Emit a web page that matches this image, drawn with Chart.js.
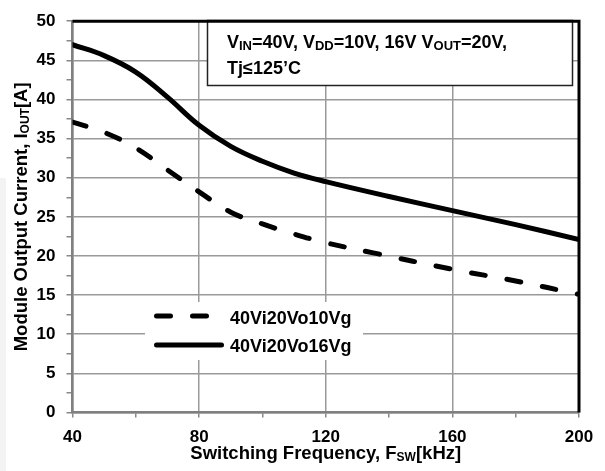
<!DOCTYPE html>
<html>
<head>
<meta charset="utf-8">
<script src="https://cdn.jsdelivr.net/npm/chart.js@4/dist/chart.umd.min.js"></script>
<style>
  html, body { margin: 0; padding: 0; background: #fff; }
  canvas { display: block; }
</style>
</head>
<body>
<canvas id="c" width="605" height="471"></canvas>
<script>
// ---- data ----
const freq16 = [40, 50, 60, 70, 80, 90, 100, 110, 120, 140, 160, 180, 200];
const iout16 = [47.0, 45.6, 43.5, 40.3, 36.7, 34.0, 32.1, 30.6, 29.5, 27.6, 25.8, 24.0, 22.1];
const freq10 = [40, 50, 60, 70, 80, 90, 100, 110, 120, 135, 160, 180, 200];
const iout10 = [37.1, 35.8, 33.8, 31.0, 28.2, 25.6, 24.1, 22.8, 21.7, 20.4, 18.3, 16.8, 15.1];
const seriesLabels = ['40Vi20Vo10Vg', '40Vi20Vo16Vg'];
const xTickValues = [40, 80, 120, 160, 200];
const yTickValues = [0, 5, 10, 15, 20, 25, 30, 35, 40, 45, 50];
const xTitle = [{t: 'Switching Frequency, F'}, {t: 'SW', sub: true}, {t: '[kHz]'}];
const yTitle = [{t: 'Module Output Current, I'}, {t: 'OUT', sub: true}, {t: '[A]'}];
const noteLine1 = [{t: 'V'}, {t: 'IN', sub: true}, {t: '=40V, V'}, {t: 'DD', sub: true}, {t: '=10V, 16V V'}, {t: 'OUT', sub: true}, {t: '=20V,'}];
const noteLine2 = [{t: 'Tj\u2264125\u2019C'}];

const FAM = '"Liberation Sans", Arial, Helvetica, sans-serif';
const pts = (xs, ys) => xs.map((x, i) => ({x: x, y: ys[i]}));

function drawRich(ctx, parts, x, y, size, subSize, align) {
  const fMain = 'bold ' + size + 'px ' + FAM;
  const fSub = 'bold ' + subSize + 'px ' + FAM;
  let w = 0;
  parts.forEach(p => { ctx.font = p.sub ? fSub : fMain; w += ctx.measureText(p.t).width; });
  let cx = align === 'center' ? x - w / 2 : x;
  ctx.textAlign = 'left';
  ctx.textBaseline = 'alphabetic';
  ctx.fillStyle = '#000';
  parts.forEach(p => {
    ctx.font = p.sub ? fSub : fMain;
    ctx.fillText(p.t, cx, y + (p.sub ? 2 : 0));
    cx += ctx.measureText(p.t).width;
  });
}

const decor = {
  id: 'decor',
  beforeDraw(chart) {
    const ctx = chart.ctx;
    ctx.save();
    ctx.fillStyle = '#fff';
    ctx.fillRect(0, 0, chart.width, chart.height);
    ctx.fillStyle = '#f3f3f3';
    ctx.fillRect(0, 178, 6, chart.height - 178);
    ctx.restore();
  },
  beforeDatasetsDraw(chart) {
    const ctx = chart.ctx;
    ctx.save();
    // annotation box
    ctx.fillStyle = '#fff';
    ctx.fillRect(207.5, 20.5, 365, 65);
    ctx.strokeStyle = '#222';
    ctx.lineWidth = 1.5;
    ctx.strokeRect(207.5, 20.5, 365, 65);
    drawRich(ctx, noteLine1, 227, 47.5, 18, 13, 'left');
    drawRich(ctx, noteLine2, 227, 73.5, 18, 13, 'left');
    // legend box (white, no border)
    ctx.fillStyle = '#fff';
    ctx.fillRect(145, 302, 218, 58);
    const ds = chart.data.datasets;
    const rows = [{y: 316, ds: ds[0], x2: 206.5, ty: 323.5}, {y: 345, ds: ds[1], x2: 221.5, ty: 352}];
    rows.forEach(r => {
      ctx.beginPath();
      ctx.lineWidth = r.ds.borderWidth;
      ctx.strokeStyle = r.ds.borderColor;
      ctx.lineCap = 'round';
      ctx.setLineDash(r.ds.borderDash || []);
      ctx.moveTo(156.5, r.y);
      ctx.lineTo(r.x2, r.y);
      ctx.stroke();
      ctx.setLineDash([]);
      drawRich(ctx, [{t: r.ds.label}], 230, r.ty, 18, 13, 'left');
    });
    ctx.restore();
  },
  afterDraw(chart) {
    const ctx = chart.ctx;
    const a = chart.chartArea;
    ctx.save();
    // black top and right frame
    ctx.strokeStyle = '#000';
    ctx.lineWidth = 3;
    ctx.beginPath();
    ctx.moveTo(a.left, a.top);
    ctx.lineTo(a.right, a.top);
    ctx.lineTo(a.right, a.bottom);
    ctx.stroke();
    // axis titles
    drawRich(ctx, xTitle, (a.left + a.right) / 2, 459, 18.5, 12, 'center');
    ctx.translate(20, (a.top + a.bottom) / 2);
    ctx.rotate(-Math.PI / 2);
    drawRich(ctx, yTitle, 0, 6.5, 18.5, 12, 'center');
    ctx.restore();
  }
};

new Chart(document.getElementById('c'), {
  type: 'line',
  data: {
    datasets: [
      {
        label: seriesLabels[0],
        data: pts(freq10, iout10),
        borderColor: '#000',
        borderWidth: 5,
        borderDash: [14, 22],
        borderCapStyle: 'round',
        pointRadius: 0,
        fill: false,
        tension: 0.4
      },
      {
        label: seriesLabels[1],
        data: pts(freq16, iout16),
        borderColor: '#000',
        borderWidth: 5,
        borderCapStyle: 'round',
        pointRadius: 0,
        fill: false,
        tension: 0.4
      }
    ]
  },
  options: {
    responsive: false,
    animation: false,
    devicePixelRatio: 1,
    layout: { padding: { left: 0, right: 26, top: 13, bottom: 0 } },
    plugins: { legend: { display: false }, title: { display: false }, tooltip: { enabled: false } },
    scales: {
      x: {
        type: 'linear',
        min: 40, max: 200,
        afterFit(s) { s.height = 58.5; },
        ticks: {
          stepSize: 20,
          autoSkip: false,
          maxRotation: 0,
          padding: 10,
          color: '#000',
          font: { family: FAM, size: 17, weight: 'bold' },
          callback: v => xTickValues.includes(v) ? String(v) : ''
        },
        grid: {
          color: c => (c.tick && xTickValues.includes(c.tick.value)) ? '#9a9a9a' : 'rgba(0,0,0,0)',
          lineWidth: 1.5,
          tickColor: '#888',
          tickLength: 5,
          drawTicks: true
        },
        border: { display: true, color: '#808080', width: 2.5 }
      },
      y: {
        min: 0, max: 50,
        afterFit(s) { s.width = 72.5; },
        ticks: {
          stepSize: 2.5,
          autoSkip: false,
          padding: 11,
          color: '#000',
          font: { family: FAM, size: 17, weight: 'bold' },
          callback: v => yTickValues.includes(v) ? String(v) : ''
        },
        grid: {
          color: c => (c.tick && yTickValues.includes(c.tick.value)) ? '#9a9a9a' : 'rgba(0,0,0,0)',
          lineWidth: 1.5,
          tickColor: '#888',
          tickLength: 6,
          drawTicks: true
        },
        border: { display: true, color: '#808080', width: 2.5 }
      }
    }
  },
  plugins: [decor]
});
</script>
</body>
</html>
